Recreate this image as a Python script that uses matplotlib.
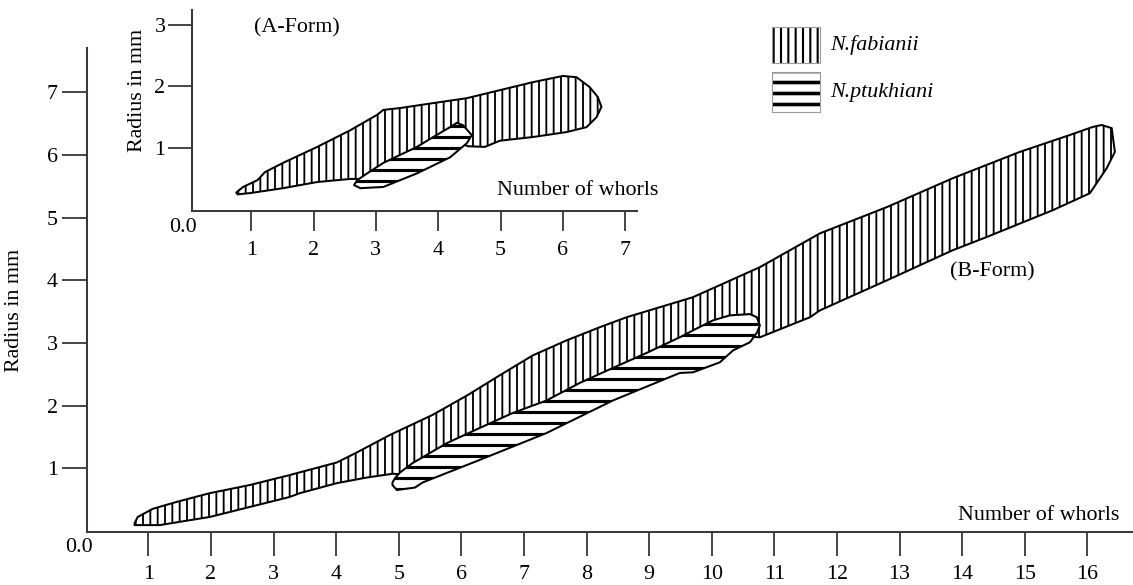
import matplotlib
matplotlib.use("Agg")
import matplotlib.pyplot as plt
from matplotlib.patches import Polygon, Rectangle
import numpy as np

# ---------------- data ----------------
species = ["N.fabianii", "N.ptukhiani"]

# B-Form (main chart) outlines: (number of whorls, radius in mm)
b_fab_x = [0.78, 0.83, 1.07, 1.45, 1.98, 2.62, 3.26, 4.01, 4.33, 4.86, 5.54, 6.09, 6.61, 7.14,
           7.68, 8.21, 8.64, 9.70, 10.77, 11.73, 12.80, 13.85, 14.92, 15.72, 16.09, 16.23, 16.39,
           16.44, 16.31, 16.04, 15.45, 14.39, 13.85, 12.80, 11.73, 11.57, 10.77, 10.13, 9.49,
           8.42, 7.36, 6.29, 5.54, 5.10, 4.90, 4.49, 4.01, 3.42, 3.26, 1.98, 1.18, 0.78]
b_fab_y = [0.12, 0.22, 0.35, 0.46, 0.60, 0.73, 0.89, 1.09, 1.25, 1.53, 1.85, 2.16, 2.48, 2.80,
           3.04, 3.25, 3.41, 3.73, 4.21, 4.75, 5.17, 5.63, 6.05, 6.32, 6.45, 6.48, 6.43,
           6.05, 5.79, 5.39, 5.12, 4.69, 4.48, 4.00, 3.52, 3.41, 3.09, 3.12, 2.80,
           2.34, 1.83, 1.38, 0.97, 0.90, 0.91, 0.85, 0.76, 0.60, 0.54, 0.22, 0.09, 0.09]

b_ptu_x = [4.90, 4.94, 5.02, 5.22, 5.77, 6.29, 6.82, 7.36, 7.89, 8.42, 8.96, 9.49, 9.76, 10.02,
           10.29, 10.61, 10.72, 10.77, 10.72, 10.61, 10.34, 10.13, 9.70, 9.49, 8.42, 7.36, 6.29,
           5.38, 5.26, 4.97, 4.90]
b_ptu_y = [0.77, 0.84, 0.93, 1.08, 1.40, 1.64, 1.88, 2.08, 2.36, 2.60, 2.84, 3.09, 3.23, 3.36,
           3.44, 3.46, 3.41, 3.28, 3.16, 3.01, 2.88, 2.69, 2.53, 2.52, 2.08, 1.56, 1.13,
           0.77, 0.69, 0.65, 0.73]

# A-Form (inset) outlines
a_fab_x = [0.76, 0.87, 1.10, 1.22, 1.51, 2.06, 2.59, 3.02, 3.12, 3.39, 3.92, 4.46, 4.99, 5.52,
           6.00, 6.22, 6.43, 6.56, 6.62, 6.54, 6.38, 6.06, 5.52, 4.99, 4.75, 4.48, 4.40, 4.19,
           3.66, 3.12, 2.80, 2.59, 2.06, 1.51, 0.98, 0.78]
a_fab_y = [0.28, 0.37, 0.48, 0.61, 0.76, 1.02, 1.29, 1.54, 1.62, 1.65, 1.73, 1.81, 1.94, 2.07,
           2.17, 2.15, 1.99, 1.83, 1.67, 1.50, 1.34, 1.26, 1.18, 1.12, 1.02, 1.03, 1.06, 1.05,
           0.80, 0.56, 0.50, 0.50, 0.45, 0.35, 0.27, 0.25]

a_ptu_x = [2.65, 2.70, 2.86, 3.12, 3.66, 3.92, 4.19, 4.30, 4.40, 4.54, 4.46, 4.19, 3.66, 3.12,
           2.75, 2.65]
a_ptu_y = [0.40, 0.48, 0.59, 0.76, 1.02, 1.18, 1.34, 1.41, 1.37, 1.21, 1.08, 0.85, 0.59, 0.37,
           0.35, 0.40]

main_xticks = list(range(1, 17))
main_yticks = list(range(1, 8))
inset_xticks = list(range(1, 8))
inset_yticks = list(range(1, 4))

# ---------------- style ----------------
DPI = 132
W, H = 1133, 585
SERIF = ["Liberation Serif", "DejaVu Serif"]
plt.rcParams["font.family"] = SERIF
FS = 12
AXC = "#3a3a3a"
hatches = {"N.fabianii": "|||", "N.ptukhiani": "--"}
hatch_lw = {"N.fabianii": 1.0, "N.ptukhiani": 1.7}

fig = plt.figure(figsize=(W / DPI, H / DPI), dpi=DPI)
fig.patch.set_facecolor("white")


def px_rect(x0, y0, x1, y1):
    return [x0 / W, 1 - y1 / H, (x1 - x0) / W, (y1 - y0) / H]


def make_poly(xs, ys, sp, z):
    with plt.rc_context({"hatch.linewidth": hatch_lw[sp], "hatch.color": "black"}):
        p = Polygon(np.column_stack([xs, ys]), closed=True, facecolor="white",
                    edgecolor="black", linewidth=1.1, hatch=hatches[sp], zorder=z,
                    joinstyle="round")
    if hasattr(p, "set_hatch_linewidth"):
        p.set_hatch_linewidth(hatch_lw[sp])
    return p


def style_axes(ax, xt, yt, xlen, ylen, xpad, ypad):
    for s in ("top", "right"):
        ax.spines[s].set_visible(False)
    for s in ("left", "bottom"):
        ax.spines[s].set_color(AXC)
        ax.spines[s].set_linewidth(1.1)
    ax.set_xticks(xt)
    ax.set_yticks(yt)
    ax.tick_params(axis="x", direction="out", length=xlen, width=1.0, color=AXC,
                   labelsize=FS, pad=xpad)
    ax.tick_params(axis="y", direction="out", length=ylen, width=1.0, color=AXC,
                   labelsize=FS, pad=ypad)
    ax.patch.set_alpha(0)


# main axes (B-Form)
ax = fig.add_axes(px_rect(87, 48, 1133, 532))
ax.set_xlim(0.02, 16.73)
ax.set_ylim(-0.02, 7.71)
style_axes(ax, main_xticks, main_yticks, 13, 13.5, 4.8, 2.5)
ax.add_patch(make_poly(b_fab_x, b_fab_y, "N.fabianii", 2))
ax.add_patch(make_poly(b_ptu_x, b_ptu_y, "N.ptukhiani", 3))
ax.text(15.22, 0.25, "Number of whorls", fontsize=FS, ha="center", va="center")
ax.text(14.49, 4.13, "(B-Form)", fontsize=FS, ha="center", va="center")
ax.text(-0.11, -0.26, "0.0", fontsize=FS, ha="center", va="center", clip_on=False)
fig.text(15 / W, 1 - 310 / H, "Radius in mm", rotation=90, fontsize=FS,
         ha="center", va="center")

# inset axes (A-Form)
ia = fig.add_axes(px_rect(192, 10, 637, 211))
ia.set_xlim(0.05, 7.19)
ia.set_ylim(-0.02, 3.24)
style_axes(ia, inset_xticks, inset_yticks, 11, 13, 5.3, 1.5)
ia.add_patch(make_poly(a_fab_x, a_fab_y, "N.fabianii", 2))
ia.add_patch(make_poly(a_ptu_x, a_ptu_y, "N.ptukhiani", 3))
ia.text(6.24, 0.32, "Number of whorls", fontsize=FS, ha="center", va="center")
ia.text(1.74, 2.95, "(A-Form)", fontsize=FS, ha="center", va="center")
ia.text(-0.09, -0.28, "0.0", fontsize=FS, ha="center", va="center", clip_on=False)
fig.text(137 / W, 1 - 90 / H, "Radius in mm", rotation=90, fontsize=FS,
         ha="center", va="center")

# legend (hand-made swatches)
legend_boxes = {"N.fabianii": (772, 27, 820, 63), "N.ptukhiani": (772, 72, 820, 112)}
for sp in species:
    x0, y0, x1, y1 = legend_boxes[sp]
    l, b, w, h = px_rect(x0, y0, x1, y1)
    with plt.rc_context({"hatch.linewidth": hatch_lw[sp] * 1.15, "hatch.color": "black"}):
        r = Rectangle((l, b), w, h, transform=fig.transFigure, facecolor="white",
                      edgecolor="black", linewidth=0, hatch=hatches[sp])
    if hasattr(r, "set_hatch_linewidth"):
        r.set_hatch_linewidth(hatch_lw[sp] * 1.15)
    fig.add_artist(r)
    fig.add_artist(Rectangle((l, b), w, h, transform=fig.transFigure, facecolor="none",
                             edgecolor="#9a9a9a", linewidth=0.6))
    fig.text(830 / W, 1 - ((y0 + y1) / 2) / H, sp, fontsize=FS, style="italic",
             ha="left", va="center")

fig.savefig("out.png", dpi=DPI)
